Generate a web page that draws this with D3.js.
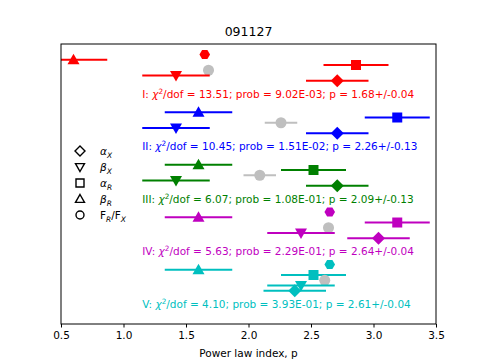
<!DOCTYPE html>
<html><head><meta charset="utf-8">
<script src="https://cdn.jsdelivr.net/npm/d3@7"></script>
<style>body{margin:0;background:#fff}svg{font-family:"DejaVu Sans",sans-serif}</style>
</head><body><svg id="c" width="485" height="364"></svg>
<script>
const title = "091127";
const groups = ["I","II","III","IV","V"];
const colors = ["#ff0000","#0000ff","#008000","#bf00bf","#00bfbf"];
const chi2 = ["13.51","10.45","6.07","5.63","4.10"];
const prob = ["9.02E-03","1.51E-02","1.08E-01","2.29E-01","3.93E-01"];
const pFit = [1.68, 2.26, 2.09, 2.64, 2.61];
const pErr = [0.04, 0.13, 0.13, 0.04, 0.04];
const ratioP = [1.65, null, null, 2.65, 2.65];      // F_R/F_X
const betaR = [0.60, 1.60, 1.60, 1.60, 1.60];
const betaRErr = [0.27, 0.27, 0.27, 0.27, 0.27];
const alphaR = [2.86, 3.19, 2.52, 3.19, 2.52];
const alphaRErr = [0.26, 0.26, 0.26, 0.26, 0.26];
const betaX = [1.42, 1.42, 1.42, 2.42, 2.42];
const betaXErr = [0.27, 0.27, 0.27, 0.27, 0.27];
const alphaX = [2.71, 2.71, 2.71, 3.04, 2.37];
const alphaXErr = [0.25, 0.25, 0.25, 0.25, 0.25];
const xTicks = [0.5,1.0,1.5,2.0,2.5,3.0,3.5];
const xLabel = "Power law index, p";

const svg = d3.select("#c");
const L=61,R=436,T=44,B=324;
const x = d3.scaleLinear().domain([0.5,3.5]).range([L,R]);
const y = d3.scaleLinear().domain([0,53.33]).range([T,B]);
const rowY = (g,r)=> y(g*10+2+r);

svg.append("defs").append("clipPath").attr("id","clip").append("rect")
  .attr("x",L).attr("y",T).attr("width",R-L).attr("height",B-T);
const plot = svg.append("g").attr("clip-path","url(#clip)");

function diamond(s){return `M0,${-s}L${s},0L0,${s}L${-s},0Z`;}
function square(s){return `M${-s},${-s}H${s}V${s}H${-s}Z`;}
function triUp(s){return `M0,${-s}L${s},${s*0.75}L${-s},${s*0.75}Z`;}
function triDown(s){return `M0,${s}L${s},${-s*0.75}L${-s},${-s*0.75}Z`;}
function hexH(s){const h=s*0.85;return `M${-s},0L${-s/2},${-h}L${s/2},${-h}L${s},0L${s/2},${h}L${-s/2},${h}Z`;}
function circ(s){return `M${s},0A${s},${s} 0 1,1 ${-s},0A${s},${s} 0 1,1 ${s},0Z`;}

function errRow(vals, errs, row, shape, size, colorFn){
  groups.forEach((gname,g)=>{
    const v = vals[g]; if(v==null) return;
    const c = colorFn(g), yy = rowY(g,row);
    if(errs){
      plot.append("line").attr("x1",x(v-errs[g])).attr("x2",x(v+errs[g]))
        .attr("y1",yy).attr("y2",yy).attr("stroke",c).attr("stroke-width",1.8);
    }
    plot.append("path").attr("d",shape(size)).attr("transform",`translate(${x(v)},${yy})`).attr("fill",c);
  });
}
errRow(ratioP, null, 0, hexH, 5.3, g=>colors[g]);
errRow(betaR, betaRErr, 1, triUp, 6, g=>colors[g]);
errRow(alphaR, alphaRErr, 2, square, 5, g=>colors[g]);
errRow(pFit, pErr, 3, circ, 5.5, g=>"#bfbfbf");
errRow(betaX, betaXErr, 4, triDown, 6, g=>colors[g]);
errRow(alphaX, alphaXErr, 5, diamond, 6.5, g=>colors[g]);

// annotations
groups.forEach((gname,g)=>{
  const t = svg.append("text").attr("x",x(1.15)).attr("y",rowY(g,7.5)+4)
    .attr("fill",colors[g]).attr("font-size",10.5);
  t.append("tspan").text(gname+": ");
  t.append("tspan").attr("font-style","italic").text("χ");
  t.append("tspan").attr("font-size",7.3).attr("dy",-4).text("2");
  t.append("tspan").attr("dy",4).text(`/dof = ${chi2[g]}; prob = ${prob[g]}; p = ${pFit[g].toFixed(2)}+/-${pErr[g].toFixed(2)}`);
});

// legend
const leg = [
  {shape:diamond, s:5, lab:[["α","i"],["X","is"]]},
  {shape:triDown, s:4.5, lab:[["β","i"],["X","is"]]},
  {shape:square, s:4, lab:[["α","i"],["R","is"]]},
  {shape:triUp, s:4.5, lab:[["β","i"],["R","is"]]},
  {shape:circ, s:4, lab:[["F",""],["R","is"],["/F",""],["X","is"]]},
];
leg.forEach((d,i)=>{
  const yy = 151+i*16;
  svg.append("path").attr("d",d.shape(d.s)).attr("transform",`translate(80,${yy})`)
    .attr("fill","none").attr("stroke","#000").attr("stroke-width",1.4);
  const t = svg.append("text").attr("x",100).attr("y",yy+4).attr("font-size",10.5).attr("fill","#000");
  let sub=false;
  d.lab.forEach(([s,f])=>{
    const ts = t.append("tspan").text(s);
    if(f.includes("i")) ts.attr("font-style","italic");
    if(f.includes("s")){ ts.attr("font-size",7.5).attr("dy",sub?0:2.5); sub=true; }
    else if(sub){ ts.attr("dy",-2.5); sub=false; }
  });
});

// frame & axis
svg.append("rect").attr("x",L).attr("y",T).attr("width",R-L).attr("height",B-T)
  .attr("fill","none").attr("stroke","#000").attr("stroke-width",1);
const ax = svg.append("g").attr("transform",`translate(0,${B})`)
  .call(d3.axisBottom(x).tickValues(xTicks).tickFormat(d3.format(".1f")).tickSize(3.5).tickSizeOuter(0));
ax.select(".domain").remove();
ax.selectAll("text").attr("font-size",10.5).attr("font-family","DejaVu Sans").attr("dy","0.85em");
svg.append("text").attr("x",(L+R)/2).attr("y",357).attr("text-anchor","middle").attr("font-size",10.5).text(xLabel);
svg.append("text").attr("x",(L+R)/2).attr("y",36).attr("text-anchor","middle").attr("font-size",12.5).text(title);
</script></body></html>
